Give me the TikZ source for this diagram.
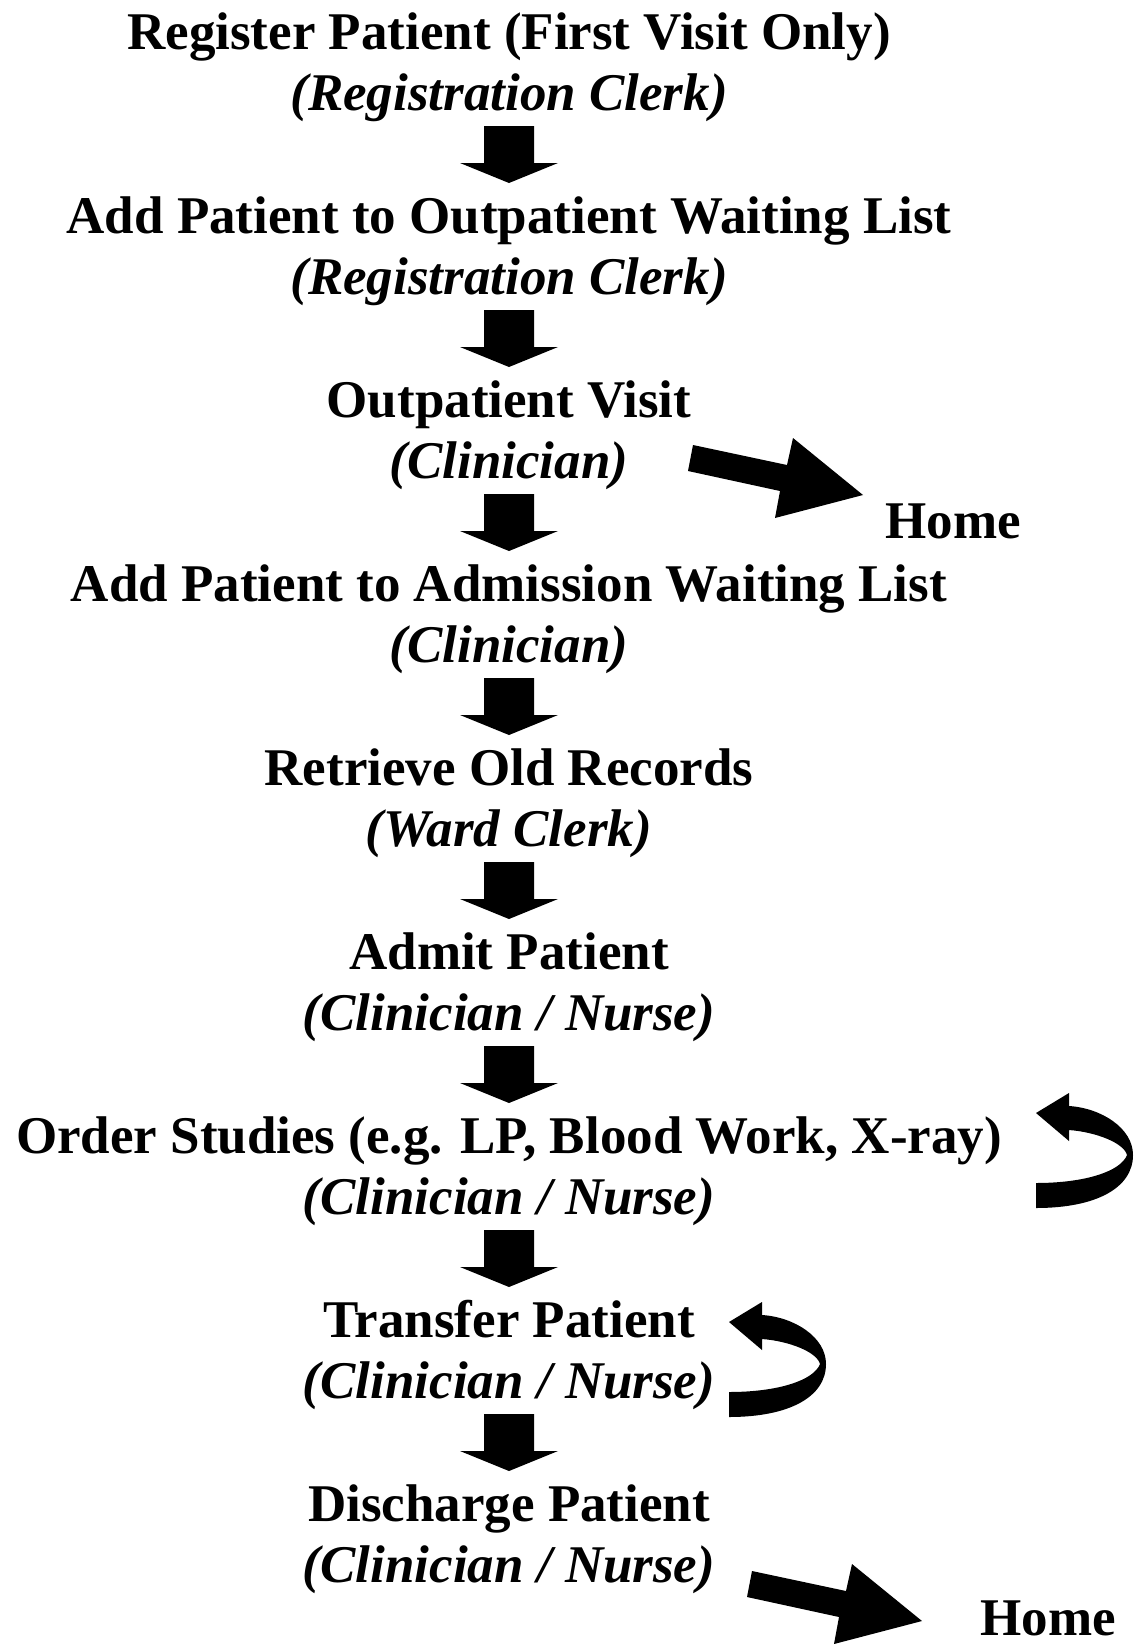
\documentclass[tikz,border=0pt]{standalone}
\usepackage{fontspec}
\setmainfont{Liberation Serif}
\usetikzlibrary{calc}
\newcommand\downarr[2]{%
  \fill[blk] let \p1=(#1.base), \p2=(#2.base) in
    (\x1-25pt,\y1-16pt) -- (\x1+25pt,\y1-16pt) -- (\x1+25pt,\y2+70pt) -- (\x1+49pt,\y2+70pt)
    -- (\x1,\y2+50pt) -- (\x1-49pt,\y2+70pt) -- (\x1-25pt,\y2+70pt) -- cycle;}
\newcommand\homearr[1]{%
  \fill[blk,shift={(#1)}] (-170,-50) -- (-76,-30) -- (-70,-57) -- (0,0) -- (-88,23) -- (-83,-4) -- (-175,-24) -- cycle;}
\newcommand\looparr[1]{%
  \fill[blk,shift={(#1)}] (0,95) .. controls (60,95) and (97,75) .. (97,42)
    .. controls (97,15) and (65,-5) .. (33,-7) -- (33,-20) -- (0,0) -- (33,28) -- (33,17)
    .. controls (60,19) and (88,30) .. (91,42) .. controls (85,58) and (50,70) .. (0,70) -- cycle;}
\begin{document}
\begin{tikzpicture}[x=1pt,y=-1pt,
  title/.style={font=\fontsize{53}{61}\selectfont\bfseries, inner sep=0pt, anchor=base},
  role/.style={font=\fontsize{53}{61}\selectfont\bfseries\itshape, inner sep=0pt, anchor=base},
  blk/.style={fill=black}]
\useasboundingbox[fill=white] (0,0) rectangle (1138,1644);
\node[title] (t1) at (509,49) {Register Patient (First Visit Only)};
\node[role] (r1) at (509,110) {(Registration Clerk)};
\node[title] (t2) at (509,233) {Add Patient to Outpatient Waiting List};
\node[role] (r2) at (509,294) {(Registration Clerk)};
\node[title] (t3) at (509,417) {Outpatient Visit};
\node[role] (r3) at (509,478) {(Clinician)};
\node[title] (t4) at (509,601) {Add Patient to Admission Waiting List};
\node[role] (r4) at (509,662) {(Clinician)};
\node[title] (t5) at (509,785) {Retrieve Old Records};
\node[role] (r5) at (509,846) {(Ward Clerk)};
\node[title] (t6) at (509,969) {Admit Patient};
\node[role] (r6) at (509,1030) {(Clinician / Nurse)};
\node[title] (t7) at (509,1153) {Order Studies (e.g. LP, Blood Work, X-ray)};
\node[role] (r7) at (509,1214) {(Clinician / Nurse)};
\node[title] (t8) at (509,1337) {Transfer Patient};
\node[role] (r8) at (509,1398) {(Clinician / Nurse)};
\node[title] (t9) at (509,1521) {Discharge Patient};
\node[role] (r9) at (509,1582) {(Clinician / Nurse)};
\node[title, text depth=0pt] (h1) at (953,538) {Home};
\node[title, text depth=0pt] (h2) at (1048,1635) {Home};
\downarr{r1}{t2}
\downarr{r2}{t3}
\downarr{r3}{t4}
\downarr{r4}{t5}
\downarr{r5}{t6}
\downarr{r6}{t7}
\downarr{r7}{t8}
\downarr{r8}{t9}
\homearr{$(h1.base)+(-90,-43)$}
\homearr{$(h2.base)+(-126,-14)$}
\looparr{$(t7.base)+(527,-40)$}
\looparr{$(t8.base)+(220,-15)$}
\end{tikzpicture}
\end{document}
